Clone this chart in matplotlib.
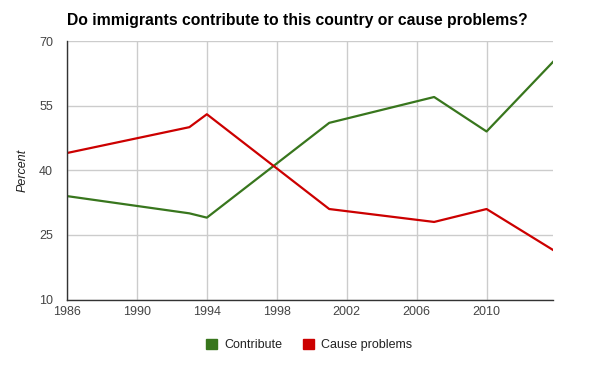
import matplotlib.pyplot as plt
from matplotlib.patches import Patch

plt.rcParams['font.family'] = ['Liberation Sans', 'DejaVu Sans']

years = [1986, 1993, 1994, 2001, 2007, 2010, 2014]
contribute = [34, 30, 29, 51, 57, 49, 66]
cause_problems = [44, 50, 53, 31, 28, 31, 21]

green = '#38761d'
red = '#cc0000'

fig = plt.figure(figsize=(6, 3.71), dpi=100)
ax = fig.add_axes([67 / 600, 1 - 299.5 / 371, 486 / 600, 258.5 / 371])

ax.plot(years, contribute, color=green, lw=1.6, label='Contribute')
ax.plot(years, cause_problems, color=red, lw=1.6, label='Cause problems')

ax.set_xlim(1986, 2013.8)
ax.set_ylim(10, 70)
ax.set_xticks([1986, 1990, 1994, 1998, 2002, 2006, 2010])
ax.set_yticks([10, 25, 40, 55, 70])
ax.grid(True, color='#cccccc', lw=1)
ax.set_axisbelow(True)
for s in ['top', 'right']:
    ax.spines[s].set_visible(False)
for s in ['left', 'bottom']:
    ax.spines[s].set_color('#333333')
    ax.spines[s].set_linewidth(1)
ax.tick_params(length=0, labelsize=9, colors='#444444')
ax.tick_params(axis='x', pad=5)
ax.tick_params(axis='y', pad=10)

ax.set_ylabel('Percent', fontstyle='italic', fontsize=9, color='#222222', va='center')
ax.yaxis.set_label_coords((23 - 67) / 486, 0.5)

fig.text(67 / 600, 1 - 20 / 371, 'Do immigrants contribute to this country or cause problems?',
         fontsize=11.3, fontweight='bold', va='center', ha='left', color='black')

handles = [Patch(color=green, label='Contribute'), Patch(color=red, label='Cause problems')]
fig.legend(handles=handles, loc='center', bbox_to_anchor=(309 / 600, 1 - 345 / 371),
           ncol=2, frameon=False, fontsize=9, handlelength=0.92, handleheight=0.92,
           handletextpad=0.55, columnspacing=1.65, labelcolor='#222222',
           borderpad=0, borderaxespad=0)

fig.savefig('out.png', dpi=100)
